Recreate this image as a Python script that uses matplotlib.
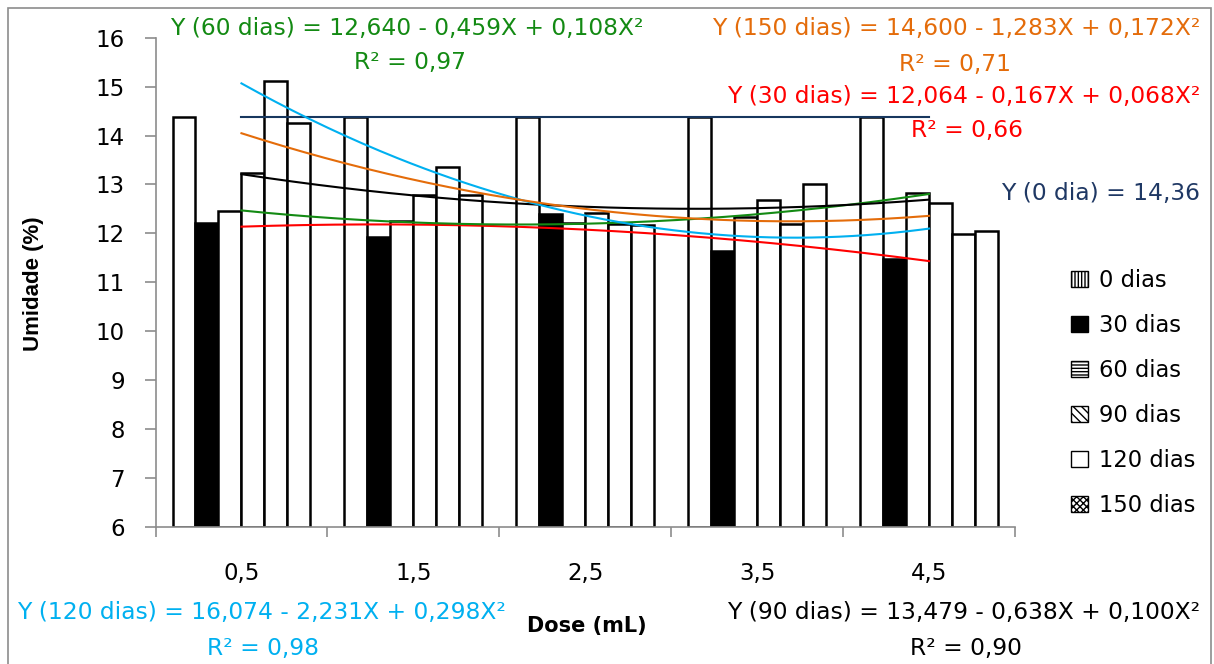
import numpy as np
import matplotlib
matplotlib.use('Agg')
import matplotlib.pyplot as plt
from matplotlib.patches import Patch, Rectangle

plt.rcParams['font.family'] = ['DejaVu Sans']

# dose (mL) e umidade (%)
doses = [0.5, 1.5, 2.5, 3.5, 4.5]
dose_labels = ['0,5', '1,5', '2,5', '3,5', '4,5']
series_names = ['0 dias', '30 dias', '60 dias', '90 dias', '120 dias', '150 dias']
u_0 = [14.37, 14.37, 14.37, 14.37, 14.37]
u_30 = [12.21, 11.93, 12.40, 11.65, 11.47]
u_60 = [12.45, 12.26, 12.21, 12.34, 12.83]
u_90 = [13.23, 12.78, 12.42, 12.68, 12.63]
u_120 = [15.12, 13.36, 12.20, 12.20, 11.99]
u_150 = [14.26, 12.78, 12.18, 13.00, 12.04]

W, H = 1214, 664


def px(x, y):
    return x / W, 1 - y / H


fig = plt.figure(figsize=(W / 100, H / 100), dpi=100)
fig.patch.set_facecolor('white')
fig.patches.append(Rectangle(px(8, 700), (1211 - 8) / W, (700 - 8) / H,
                             transform=fig.transFigure, fill=False,
                             edgecolor='#8c8c8c', lw=1.2))

ax = fig.add_axes([155.5 / W, 1 - 527 / H, (1015 - 155.5) / W, (527 - 37.7) / H])

all_u = [u_0, u_30, u_60, u_90, u_120, u_150]
bar_fc = ['white', 'black', 'white', 'white', 'white', 'white']
bw = 0.1337
idx = np.arange(len(doses))
for i, vals in enumerate(all_u):
    ax.bar(idx + (i - 2.5) * bw, np.array(vals) - 6, bottom=6, width=bw,
           color=bar_fc[i], edgecolor='black', lw=1.8, zorder=2)

# linhas de tendencia (ajuste polinomial dos dados)
xx = np.linspace(doses[0], doses[-1], 200)
x_pos = xx - doses[0]
c0 = np.polyfit(doses, u_0, 0)
ax.plot(x_pos, np.polyval(c0, xx) * np.ones_like(xx), color='#17375E', lw=1.5, zorder=3)
trend = [(u_30, '#FF0000'), (u_60, '#138A13'), (u_90, 'black'),
         (u_120, '#00B0F0'), (u_150, '#E46C0A')]
for vals, col in trend:
    c = np.polyfit(doses, vals, 2)
    ax.plot(x_pos, np.polyval(c, xx), color=col, lw=1.5, zorder=3)

ax.set_xlim(-0.5, len(doses) - 0.5)
ax.set_ylim(6, 16)
ax.set_yticks(range(6, 17))
ax.set_xticks(np.arange(-0.5, len(doses), 1.0))
ax.set_xticklabels([])
ax.set_xticks(idx, minor=True)
ax.set_xticklabels(dose_labels, minor=True)
ax.tick_params(axis='x', which='major', length=7, width=1.2, color='#8c8c8c')
ax.tick_params(axis='x', which='minor', length=0, pad=25, labelsize=16.5)
ax.tick_params(axis='y', length=8, width=1.2, color='#8c8c8c', pad=14, labelsize=16.5)
for s in ['top', 'right']:
    ax.spines[s].set_visible(False)
for s in ['left', 'bottom']:
    ax.spines[s].set_color('#8c8c8c')
    ax.spines[s].set_linewidth(1.2)

fig.text(*px(33, 284), 'Umidade (%)', rotation=90, ha='center', va='center',
         fontsize=16, fontweight='bold', family=['Liberation Sans', 'DejaVu Sans'])
fig.text(*px(587, 626), 'Dose (mL)', ha='center', va='center',
         fontsize=15, fontweight='bold')

fs = 16.8
eqs = [
    (170, 28, 'left', 'Y (60 dias) = 12,640 - 0,459X + 0,108X²', '#138A13'),
    (410, 63, 'center', 'R² = 0,97', '#138A13'),
    (1200, 28, 'right', 'Y (150 dias) = 14,600 - 1,283X + 0,172X²', '#E46C0A'),
    (955, 64, 'center', 'R² = 0,71', '#E46C0A'),
    (1200, 96, 'right', 'Y (30 dias) = 12,064 - 0,167X + 0,068X²', '#FF0000'),
    (967, 130, 'center', 'R² = 0,66', '#FF0000'),
    (1200, 193, 'right', 'Y (0 dia) = 14,36', '#1F3864'),
    (17, 612, 'left', 'Y (120 dias) = 16,074 - 2,231X + 0,298X²', '#00B0F0'),
    (263, 648, 'center', 'R² = 0,98', '#00B0F0'),
    (1200, 612, 'right', 'Y (90 dias) = 13,479 - 0,638X + 0,100X²', 'black'),
    (966, 648, 'center', 'R² = 0,90', 'black'),
]
for x, y, ha, s, col in eqs:
    fig.text(*px(x, y), s, ha=ha, va='center', fontsize=fs, color=col)

hatches = ['|||||', None, '-----', '\\\\\\\\', None, 'xxxxx']
handles = [Patch(facecolor=bar_fc[i], edgecolor='black', hatch=hatches[i], lw=1.0,
                 label=series_names[i]) for i in range(len(series_names))]
fig.legend(handles=handles, loc='center left', bbox_to_anchor=px(1062, 393),
           frameon=False, fontsize=16.3, handlelength=0.75, handleheight=0.75,
           labelspacing=0.97, handletextpad=0.5, borderaxespad=0)

fig.savefig('out.png', dpi=100, facecolor='white')
